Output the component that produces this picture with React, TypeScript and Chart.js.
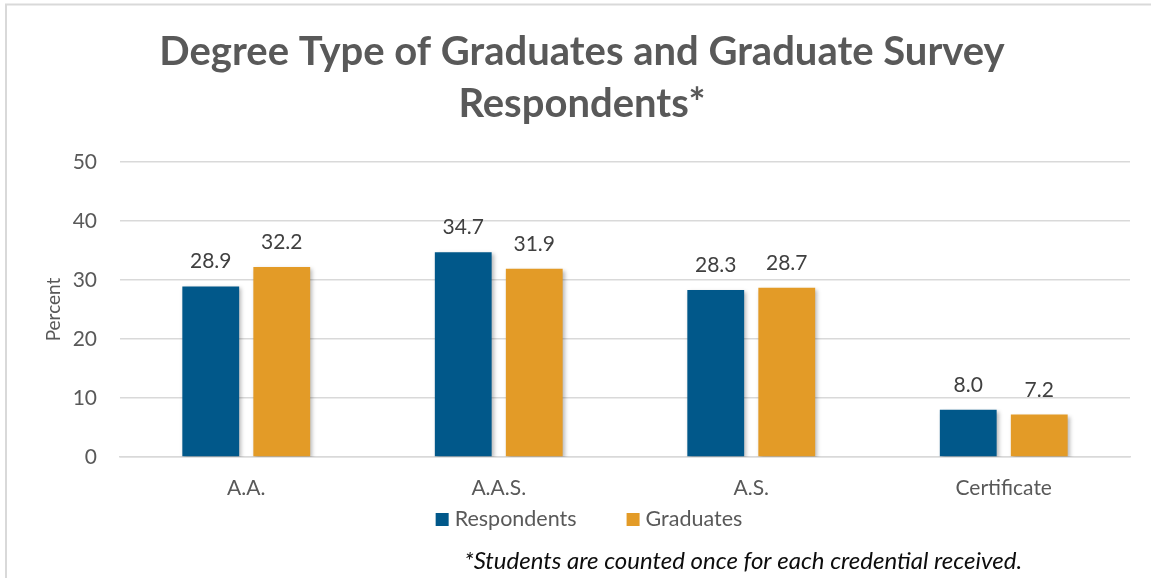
import React, { useEffect, useRef } from "react";
import { Chart, registerables } from "chart.js";

Chart.register(...registerables);

const categories = ["A.A.", "A.A.S.", "A.S.", "Certificate"];
const respondents = [28.9, 34.7, 28.3, 8.0];
const graduates = [32.2, 31.9, 28.7, 7.2];
const seriesNames = ["Respondents", "Graduates"];
const yTicks = [0, 10, 20, 30, 40, 50];
const titleLines = ["Degree Type of Graduates and Graduate Survey", "Respondents*"];
const footnote = "*Students are counted once for each credential received.";

const FONT = "Lato, 'Open Sans', sans-serif";
const BLUE = "#01588A";
const ORANGE = "#E39B27";

export default function App() {
  const ref = useRef<HTMLCanvasElement | null>(null);

  useEffect(() => {
    document.body.style.margin = "0";
    const canvas = ref.current;
    if (!canvas) return;

    const decor = {
      id: "decor",
      beforeDraw(chart: any) {
        const ctx = chart.ctx;
        ctx.save();
        ctx.fillStyle = "#ffffff";
        ctx.fillRect(0, 0, chart.width, chart.height);
        ctx.strokeStyle = "#d9d9d9";
        ctx.lineWidth = 2;
        ctx.beginPath();
        ctx.moveTo(6, chart.height + 5);
        ctx.lineTo(6, 4.5);
        ctx.lineTo(chart.width + 5, 4.5);
        ctx.stroke();
        ctx.restore();
      },
      beforeDatasetDraw(chart: any) {
        const ctx = chart.ctx;
        ctx.save();
        ctx.shadowColor = "rgba(0,0,0,0.28)";
        ctx.shadowBlur = 4;
        ctx.shadowOffsetX = 2;
        ctx.shadowOffsetY = 2;
      },
      afterDatasetDraw(chart: any) {
        chart.ctx.restore();
      },
      afterDatasetsDraw(chart: any) {
        const ctx = chart.ctx;
        ctx.save();
        ctx.font = `21px ${FONT}`;
        ctx.fillStyle = "#404040";
        ctx.textAlign = "center";
        ctx.textBaseline = "alphabetic";
        chart.data.datasets.forEach((ds: any, i: number) => {
          const meta = chart.getDatasetMeta(i);
          meta.data.forEach((el: any, j: number) => {
            ctx.fillText(Number(ds.data[j]).toFixed(1), el.x, el.y - 18);
          });
        });
        ctx.restore();
      },
      afterDraw(chart: any) {
        const ctx = chart.ctx;
        const area = chart.chartArea;
        ctx.save();
        // legend
        ctx.font = `21.5px ${FONT}`;
        ctx.textBaseline = "alphabetic";
        ctx.textAlign = "left";
        const box = 13;
        const gap = 6;
        const itemGap = 50;
        const items = chart.data.datasets.map((ds: any) => ({
          label: ds.label,
          color: ds.backgroundColor,
          w: box + gap + ctx.measureText(ds.label).width,
        }));
        const total = items.reduce((s: number, it: any) => s + it.w, 0) + itemGap * (items.length - 1);
        let x = 589 - total / 2;
        const baseY = area.bottom + 69;
        items.forEach((it: any) => {
          ctx.fillStyle = it.color;
          ctx.fillRect(x, baseY - 13, box, box);
          ctx.fillStyle = "#595959";
          ctx.fillText(it.label, x + box + gap, baseY);
          x += it.w + itemGap;
        });
        // footnote
        ctx.font = `italic 24px ${FONT}`;
        ctx.fillStyle = "#0d0d0d";
        ctx.textAlign = "right";
        ctx.fillText(footnote, 1022, area.bottom + 112);
        ctx.restore();
      },
    };

    const chart = new Chart(canvas, {
      type: "bar",
      data: {
        labels: categories,
        datasets: [
          {
            label: seriesNames[0],
            data: respondents,
            backgroundColor: BLUE,
            categoryPercentage: 0.5625,
            barPercentage: 0.8,
          },
          {
            label: seriesNames[1],
            data: graduates,
            backgroundColor: ORANGE,
            categoryPercentage: 0.5625,
            barPercentage: 0.8,
          },
        ],
      },
      options: {
        responsive: false,
        animation: false,
        devicePixelRatio: 1,
        layout: { padding: { left: 34, right: 21, top: 0, bottom: 0 } },
        plugins: {
          legend: { display: false },
          tooltip: { enabled: false },
          title: {
            display: true,
            text: titleLines,
            color: "#595959",
            font: { family: FONT, size: 40, weight: "bold", lineHeight: 52 / 40 },
            padding: { top: 26, bottom: 32 },
          },
        },
        scales: {
          x: {
            grid: { display: false, drawTicks: false },
            border: { display: true, color: "#d9d9d9", width: 1.5 },
            ticks: { color: "#595959", font: { family: FONT, size: 21 }, padding: 19 },
            afterFit(scale: any) {
              scale.height = 121;
            },
          },
          y: {
            min: 0,
            max: 50,
            afterBuildTicks(scale: any) {
              scale.ticks = yTicks.map((v) => ({ value: v }));
            },
            grid: { color: "#d9d9d9", lineWidth: 1.5, drawTicks: false },
            border: { display: false },
            ticks: { color: "#595959", font: { family: FONT, size: 21 }, padding: 23 },
            title: {
              display: true,
              text: "Percent",
              color: "#595959",
              font: { family: FONT, size: 19 },
              padding: { top: 8, bottom: 0 },
            },
            afterFit(scale: any) {
              scale.width = 86;
            },
          },
        },
      },
      plugins: [decor],
    } as any);

    return () => chart.destroy();
  }, []);

  return <canvas ref={ref} width={1151} height={578} style={{ display: "block" }} />;
}
